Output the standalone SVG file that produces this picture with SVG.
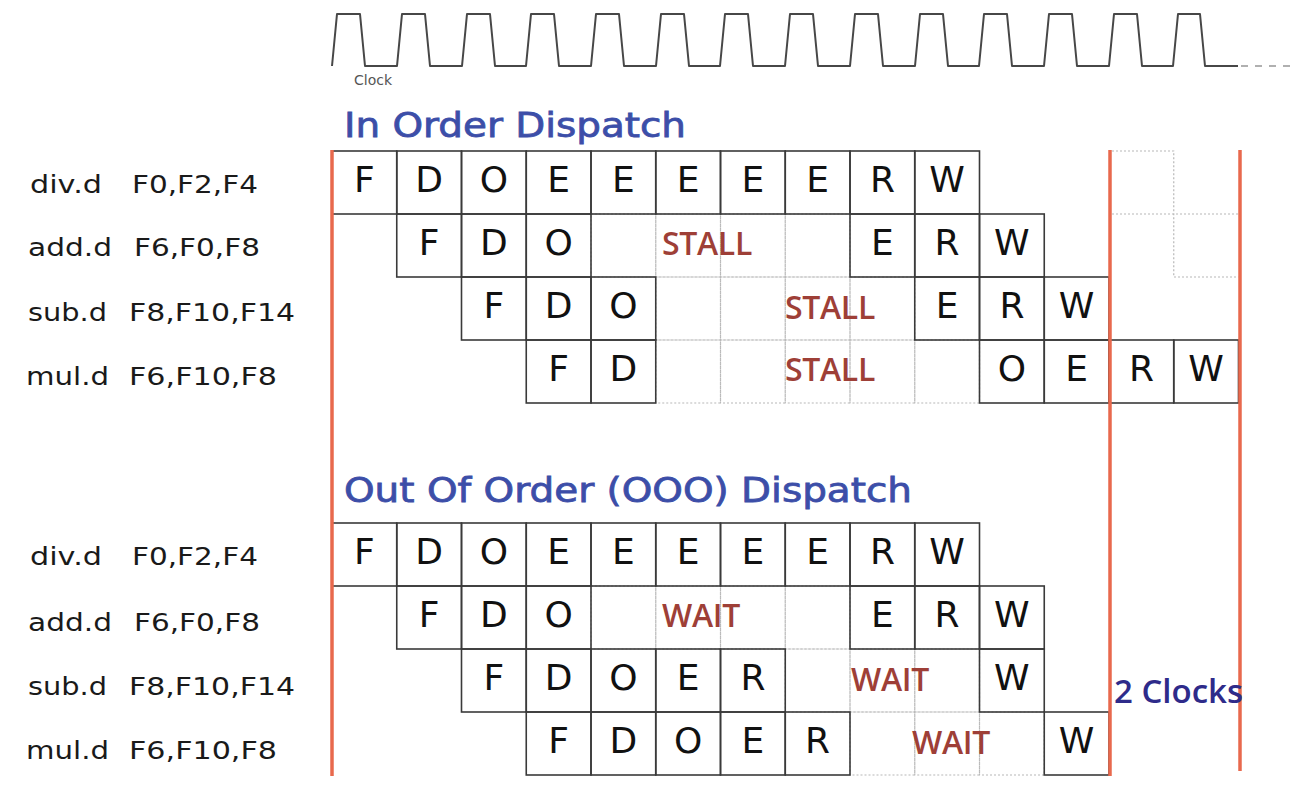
<svg xmlns="http://www.w3.org/2000/svg" width="1305" height="787" viewBox="0 0 1305 787">
<style>
.bg{fill:#fff}
.wave{fill:none;stroke:#474747;stroke-width:2;stroke-linejoin:round}
.wdash{fill:none;stroke:#b0b0b0;stroke-width:2;stroke-dasharray:7 7}
.clk{font-family:"DejaVu Sans",sans-serif;font-size:14px;fill:#555}
.title{font-family:"DejaVu Sans",sans-serif;font-size:34px;fill:#3c4ea8;stroke:#3c4ea8;stroke-width:0.8}
.lbl{font-family:"DejaVu Sans",sans-serif;font-size:25px;fill:#1a1a1a}
.cell rect{fill:none;stroke:#3a3a3a;stroke-width:1.6}
.cell text{font-family:"DejaVu Sans",sans-serif;font-size:36px;fill:#111;text-anchor:middle}
.dot{fill:none;stroke:#b8b8b8;stroke-width:1.2;stroke-dasharray:2 2}
.st{font-family:"Open Sans",sans-serif;font-size:32px;font-weight:600;fill:#9e3f37;text-anchor:middle;letter-spacing:-0.3px}
.red{stroke:#e8694d;stroke-width:3.5}
.clocks{font-family:"Open Sans",sans-serif;font-size:33px;font-weight:600;fill:#2e2b8a}
</style>
<rect class="bg" width="1305" height="787"/>

<g id="clock">
<path class="wave" d="M332,66 L337,14 L360,14 L365,66 L397,66 L402,14 L425,14 L430,66 L462,66 L467,14 L490,14 L495,66 L526,66 L531,14 L554,14 L559,66 L591,66 L596,14 L619,14 L624,66 L656,66 L661,14 L684,14 L689,66 L720,66 L725,14 L748,14 L753,66 L785,66 L790,14 L813,14 L818,66 L850,66 L855,14 L878,14 L883,66 L915,66 L920,14 L943,14 L948,66 L979,66 L984,14 L1007,14 L1012,66 L1044,66 L1049,14 L1072,14 L1077,66 L1109,66 L1114,14 L1137,14 L1142,66 L1173,66 L1178,14 L1200,14 L1205,66 L1238,66"/>
<path class="wdash" d="M1241,66 L1295,66"/>
<text class="clk" x="354" y="85">Clock</text>
</g>

<text class="title" x="344" y="137" textLength="342" lengthAdjust="spacingAndGlyphs">In Order Dispatch</text>
<text class="title" x="344" y="502" textLength="568" lengthAdjust="spacingAndGlyphs">Out Of Order (OOO) Dispatch</text>

<g id="labels-inorder">
<text class="lbl" x="30" y="193" textLength="72" lengthAdjust="spacingAndGlyphs">div.d</text><text class="lbl" x="132" y="193" textLength="126" lengthAdjust="spacingAndGlyphs">F0,F2,F4</text>
<text class="lbl" x="28" y="256" textLength="84" lengthAdjust="spacingAndGlyphs">add.d</text><text class="lbl" x="134" y="256" textLength="126" lengthAdjust="spacingAndGlyphs">F6,F0,F8</text>
<text class="lbl" x="28" y="321" textLength="79" lengthAdjust="spacingAndGlyphs">sub.d</text><text class="lbl" x="129" y="321" textLength="166" lengthAdjust="spacingAndGlyphs">F8,F10,F14</text>
<text class="lbl" x="26" y="385" textLength="83" lengthAdjust="spacingAndGlyphs">mul.d</text><text class="lbl" x="129" y="385" textLength="148" lengthAdjust="spacingAndGlyphs">F6,F10,F8</text>
</g>
<g id="labels-ooo">
<text class="lbl" x="30" y="565" textLength="72" lengthAdjust="spacingAndGlyphs">div.d</text><text class="lbl" x="132" y="565" textLength="126" lengthAdjust="spacingAndGlyphs">F0,F2,F4</text>
<text class="lbl" x="28" y="631" textLength="84" lengthAdjust="spacingAndGlyphs">add.d</text><text class="lbl" x="134" y="631" textLength="126" lengthAdjust="spacingAndGlyphs">F6,F0,F8</text>
<text class="lbl" x="28" y="695" textLength="79" lengthAdjust="spacingAndGlyphs">sub.d</text><text class="lbl" x="129" y="695" textLength="166" lengthAdjust="spacingAndGlyphs">F8,F10,F14</text>
<text class="lbl" x="26" y="759" textLength="83" lengthAdjust="spacingAndGlyphs">mul.d</text><text class="lbl" x="129" y="759" textLength="148" lengthAdjust="spacingAndGlyphs">F6,F10,F8</text>
</g>

<g id="stall-cells">
<rect class="dot" x="591" y="214" width="64.75" height="63"/>
<rect class="dot" x="655.75" y="214" width="64.75" height="63"/>
<rect class="dot" x="720.5" y="214" width="64.75" height="63"/>
<rect class="dot" x="785.25" y="214" width="64.75" height="63"/>
<rect class="dot" x="655.75" y="277" width="64.75" height="63"/>
<rect class="dot" x="720.5" y="277" width="64.75" height="63"/>
<rect class="dot" x="785.25" y="277" width="64.75" height="63"/>
<rect class="dot" x="850" y="277" width="64.75" height="63"/>
<rect class="dot" x="655.75" y="340" width="64.75" height="63"/>
<rect class="dot" x="720.5" y="340" width="64.75" height="63"/>
<rect class="dot" x="785.25" y="340" width="64.75" height="63"/>
<rect class="dot" x="850" y="340" width="64.75" height="63"/>
<rect class="dot" x="914.75" y="340" width="64.75" height="63"/>
<path class="dot" d="M1112,151 L1173.75,151 L1173.75,277 L1238.5,277 M1112,214 L1238.5,214"/>
<rect class="dot" x="591" y="586" width="64.75" height="63"/>
<rect class="dot" x="655.75" y="586" width="64.75" height="63"/>
<rect class="dot" x="720.5" y="586" width="64.75" height="63"/>
<rect class="dot" x="785.25" y="586" width="64.75" height="63"/>
<rect class="dot" x="785.25" y="649" width="64.75" height="63"/>
<rect class="dot" x="850" y="649" width="64.75" height="63"/>
<rect class="dot" x="914.75" y="649" width="64.75" height="63"/>
<rect class="dot" x="850" y="712" width="64.75" height="63"/>
<rect class="dot" x="914.75" y="712" width="64.75" height="63"/>
<rect class="dot" x="979.5" y="712" width="64.75" height="63"/>
</g>

<g id="io-div" class="cell">
<rect x="332" y="151" width="64.75" height="63"/><text x="364.4" y="192">F</text>
<rect x="396.75" y="151" width="64.75" height="63"/><text x="429.1" y="192">D</text>
<rect x="461.5" y="151" width="64.75" height="63"/><text x="493.9" y="192">O</text>
<rect x="526.25" y="151" width="64.75" height="63"/><text x="558.6" y="192">E</text>
<rect x="591" y="151" width="64.75" height="63"/><text x="623.4" y="192">E</text>
<rect x="655.75" y="151" width="64.75" height="63"/><text x="688.1" y="192">E</text>
<rect x="720.5" y="151" width="64.75" height="63"/><text x="752.9" y="192">E</text>
<rect x="785.25" y="151" width="64.75" height="63"/><text x="817.6" y="192">E</text>
<rect x="850" y="151" width="64.75" height="63"/><text x="882.4" y="192">R</text>
<rect x="914.75" y="151" width="64.75" height="63"/><text x="947.1" y="192">W</text>
</g>
<g id="io-add" class="cell">
<rect x="396.75" y="214" width="64.75" height="63"/><text x="429.1" y="255">F</text>
<rect x="461.5" y="214" width="64.75" height="63"/><text x="493.9" y="255">D</text>
<rect x="526.25" y="214" width="64.75" height="63"/><text x="558.6" y="255">O</text>
<rect x="850" y="214" width="64.75" height="63"/><text x="882.4" y="255">E</text>
<rect x="914.75" y="214" width="64.75" height="63"/><text x="947.1" y="255">R</text>
<rect x="979.5" y="214" width="64.75" height="63"/><text x="1011.9" y="255">W</text>
</g>
<g id="io-sub" class="cell">
<rect x="461.5" y="277" width="64.75" height="63"/><text x="493.9" y="318">F</text>
<rect x="526.25" y="277" width="64.75" height="63"/><text x="558.6" y="318">D</text>
<rect x="591" y="277" width="64.75" height="63"/><text x="623.4" y="318">O</text>
<rect x="914.75" y="277" width="64.75" height="63"/><text x="947.1" y="318">E</text>
<rect x="979.5" y="277" width="64.75" height="63"/><text x="1011.9" y="318">R</text>
<rect x="1044.25" y="277" width="64.75" height="63"/><text x="1076.6" y="318">W</text>
</g>
<g id="io-mul" class="cell">
<rect x="526.25" y="340" width="64.75" height="63"/><text x="558.6" y="381">F</text>
<rect x="591" y="340" width="64.75" height="63"/><text x="623.4" y="381">D</text>
<rect x="979.5" y="340" width="64.75" height="63"/><text x="1011.9" y="381">O</text>
<rect x="1044.25" y="340" width="64.75" height="63"/><text x="1076.6" y="381">E</text>
<rect x="1109" y="340" width="64.75" height="63"/><text x="1141.4" y="381">R</text>
<rect x="1173.75" y="340" width="64.75" height="63"/><text x="1206.1" y="381">W</text>
</g>
<g id="io-stalls">
<text class="st" x="707" y="255">STALL</text>
<text class="st" x="830" y="319">STALL</text>
<text class="st" x="830" y="381">STALL</text>
</g>

<g id="ooo-div" class="cell">
<rect x="332" y="523" width="64.75" height="63"/><text x="364.4" y="564">F</text>
<rect x="396.75" y="523" width="64.75" height="63"/><text x="429.1" y="564">D</text>
<rect x="461.5" y="523" width="64.75" height="63"/><text x="493.9" y="564">O</text>
<rect x="526.25" y="523" width="64.75" height="63"/><text x="558.6" y="564">E</text>
<rect x="591" y="523" width="64.75" height="63"/><text x="623.4" y="564">E</text>
<rect x="655.75" y="523" width="64.75" height="63"/><text x="688.1" y="564">E</text>
<rect x="720.5" y="523" width="64.75" height="63"/><text x="752.9" y="564">E</text>
<rect x="785.25" y="523" width="64.75" height="63"/><text x="817.6" y="564">E</text>
<rect x="850" y="523" width="64.75" height="63"/><text x="882.4" y="564">R</text>
<rect x="914.75" y="523" width="64.75" height="63"/><text x="947.1" y="564">W</text>
</g>
<g id="ooo-add" class="cell">
<rect x="396.75" y="586" width="64.75" height="63"/><text x="429.1" y="627">F</text>
<rect x="461.5" y="586" width="64.75" height="63"/><text x="493.9" y="627">D</text>
<rect x="526.25" y="586" width="64.75" height="63"/><text x="558.6" y="627">O</text>
<rect x="850" y="586" width="64.75" height="63"/><text x="882.4" y="627">E</text>
<rect x="914.75" y="586" width="64.75" height="63"/><text x="947.1" y="627">R</text>
<rect x="979.5" y="586" width="64.75" height="63"/><text x="1011.9" y="627">W</text>
</g>
<g id="ooo-sub" class="cell">
<rect x="461.5" y="649" width="64.75" height="63"/><text x="493.9" y="690">F</text>
<rect x="526.25" y="649" width="64.75" height="63"/><text x="558.6" y="690">D</text>
<rect x="591" y="649" width="64.75" height="63"/><text x="623.4" y="690">O</text>
<rect x="655.75" y="649" width="64.75" height="63"/><text x="688.1" y="690">E</text>
<rect x="720.5" y="649" width="64.75" height="63"/><text x="752.9" y="690">R</text>
<rect x="979.5" y="649" width="64.75" height="63"/><text x="1011.9" y="690">W</text>
</g>
<g id="ooo-mul" class="cell">
<rect x="526.25" y="712" width="64.75" height="63"/><text x="558.6" y="753">F</text>
<rect x="591" y="712" width="64.75" height="63"/><text x="623.4" y="753">D</text>
<rect x="655.75" y="712" width="64.75" height="63"/><text x="688.1" y="753">O</text>
<rect x="720.5" y="712" width="64.75" height="63"/><text x="752.9" y="753">E</text>
<rect x="785.25" y="712" width="64.75" height="63"/><text x="817.6" y="753">R</text>
<rect x="1044.25" y="712" width="64.75" height="63"/><text x="1076.6" y="753">W</text>
</g>
<g id="ooo-waits">
<text class="st" x="701" y="627">WAIT</text>
<text class="st" x="890" y="691">WAIT</text>
<text class="st" x="951" y="754">WAIT</text>
</g>

<g id="connectors">
<line class="red" x1="332" y1="150" x2="332" y2="776"/>
<line class="red" x1="1110" y1="150" x2="1110" y2="776"/>
<line class="red" x1="1240" y1="150" x2="1240" y2="771"/>
</g>
<text class="clocks" x="1114" y="703">2 Clocks</text>
</svg>
